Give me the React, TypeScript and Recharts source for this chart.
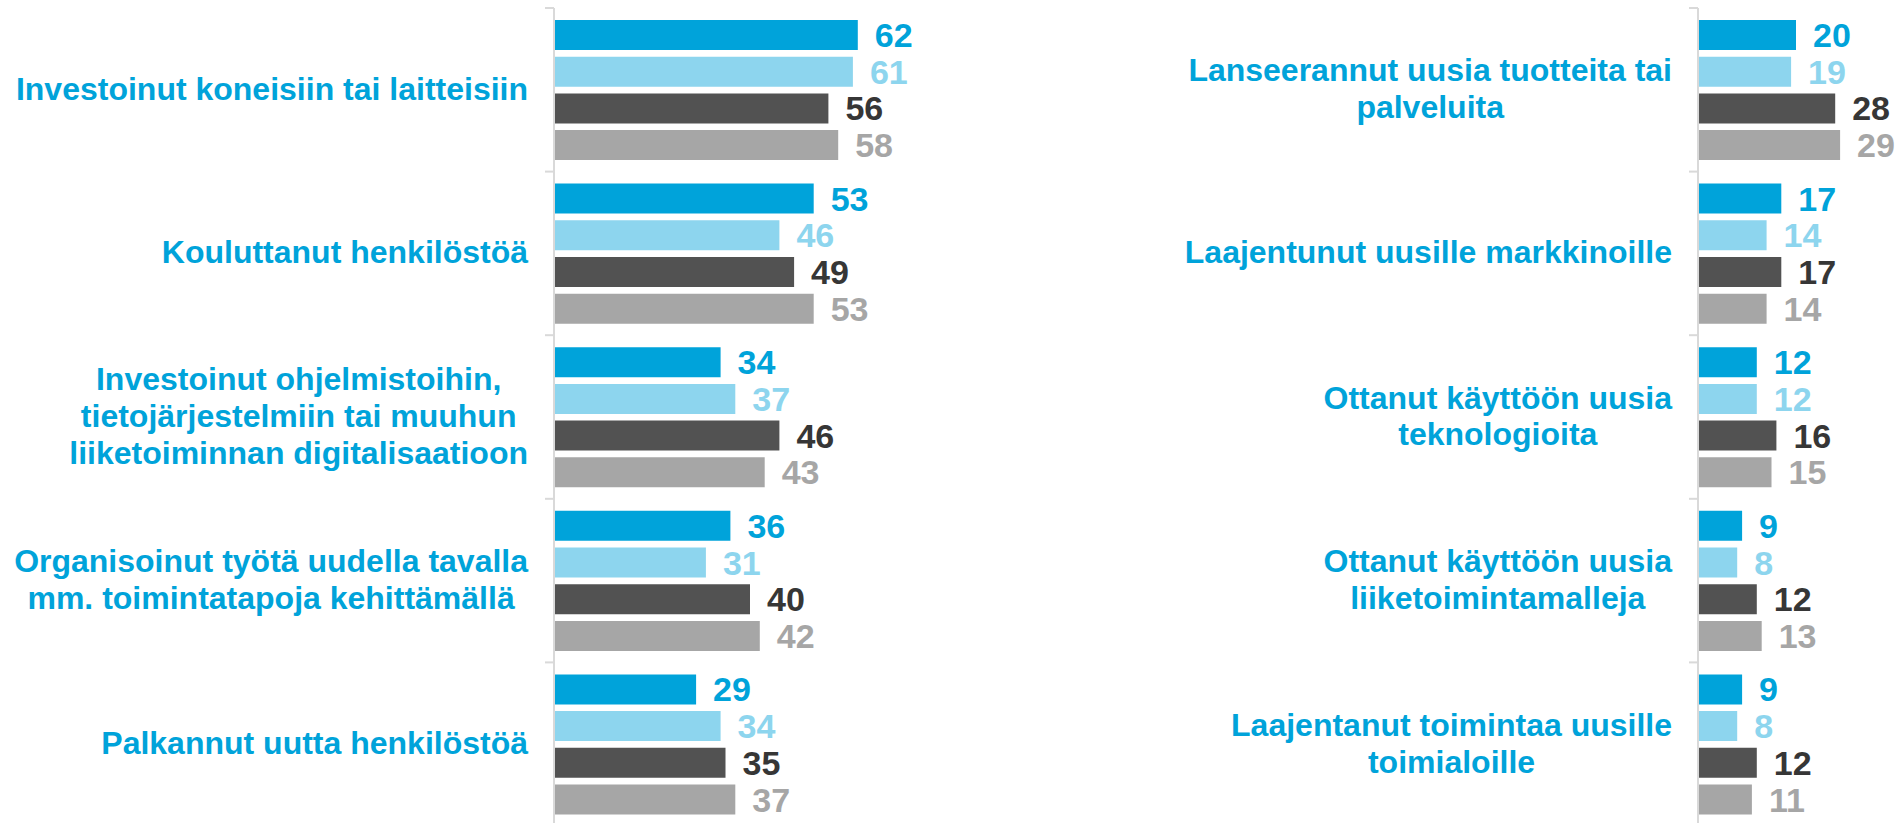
import { BarChart, Bar, XAxis, YAxis, LabelList } from 'recharts';

// categories, one line break per "\n"
const leftCategories = [
  'Investoinut koneisiin tai laitteisiin',
  'Kouluttanut henkilöstöä',
  'Investoinut ohjelmistoihin,\ntietojärjestelmiin tai muuhun\nliiketoiminnan digitalisaatioon',
  'Organisoinut työtä uudella tavalla\nmm. toimintatapoja kehittämällä',
  'Palkannut uutta henkilöstöä',
];
const rightCategories = [
  'Lanseerannut uusia tuotteita tai\npalveluita',
  'Laajentunut uusille markkinoille',
  'Ottanut käyttöön uusia\nteknologioita',
  'Ottanut käyttöön uusia\nliiketoimintamalleja',
  'Laajentanut toimintaa uusille\ntoimialoille',
];

const leftS1 = [62, 53, 34, 36, 29];
const leftS2 = [61, 46, 37, 31, 34];
const leftS3 = [56, 49, 46, 40, 35];
const leftS4 = [58, 53, 43, 42, 37];

const rightS1 = [20, 17, 12, 9, 9];
const rightS2 = [19, 14, 12, 8, 8];
const rightS3 = [28, 17, 16, 12, 12];
const rightS4 = [29, 14, 15, 13, 11];

const FONT = '"Liberation Sans", Arial, sans-serif';
const BLUE = '#00A3DA';
const series = [
  { key: 's1', bar: BLUE, label: BLUE },
  { key: 's2', bar: '#8DD5EE', label: '#8DD5EE' },
  { key: 's3', bar: '#525252', label: '#363636' },
  { key: 's4', bar: '#A6A6A6', label: '#A6A6A6' },
];

const CHART_H = 830;
const MARGIN_TOP = 8;
const MARGIN_BOTTOM = 4;
const BAND = (CHART_H - MARGIN_TOP - MARGIN_BOTTOM) / 5;
const LINE_H = 36.7;
const LABEL_GAP = 26;

const buildRows = (cats: string[], a: number[], b: number[], c: number[], d: number[]) =>
  cats.map((category, i) => ({ category, s1: a[i], s2: b[i], s3: c[i], s4: d[i] }));

const leftRows = buildRows(leftCategories, leftS1, leftS2, leftS3, leftS4);
const rightRows = buildRows(rightCategories, rightS1, rightS2, rightS3, rightS4);

let ctx: CanvasRenderingContext2D | null = null;
function textWidth(s: string) {
  if (!ctx) ctx = document.createElement('canvas').getContext('2d');
  if (!ctx) return s.length * 16;
  ctx.font = `bold 32px ${FONT}`;
  return ctx.measureText(s).width;
}

function CategoryTick(props: any) {
  const { y, payload, axisX } = props;
  const lines = String(payload.value).split('\n');
  const blockW = Math.max(...lines.map(textWidth));
  const cx = axisX - LABEL_GAP - blockW / 2;
  const top = y - BAND / 2;
  return (
    <g>
      <line x1={axisX - 9} x2={axisX} y1={top} y2={top} stroke="#D9D9D9" strokeWidth={2} />
      <text textAnchor="middle" fill={BLUE} fontSize={32} fontWeight={700} fontFamily={FONT}>
        {lines.map((l, i) => (
          <tspan key={i} x={cx} y={y + 10 + (i - (lines.length - 1) / 2) * LINE_H}>
            {l}
          </tspan>
        ))}
      </text>
    </g>
  );
}

function Panel({ rows, width, axisWidth, max, marginRight, axisX }: any) {
  return (
    <BarChart
      layout="vertical"
      width={width}
      height={CHART_H}
      data={rows}
      margin={{ top: MARGIN_TOP, right: marginRight, bottom: MARGIN_BOTTOM, left: 0 }}
      barSize={30}
      barGap={6.7}
    >
      <XAxis type="number" domain={[0, max]} hide />
      <YAxis
        type="category"
        dataKey="category"
        width={axisWidth}
        interval={0}
        tickLine={false}
        axisLine={{ stroke: '#D9D9D9', strokeWidth: 2 }}
        tick={(p: any) => <CategoryTick {...p} axisX={axisX} />}
      />
      {series.map((s) => (
        <Bar key={s.key} dataKey={s.key} fill={s.bar} isAnimationActive={false}>
          <LabelList
            dataKey={s.key}
            position="right"
            offset={17}
            fill={s.label}
            fontSize={34}
            fontWeight={700}
            fontFamily={FONT}
          />
        </Bar>
      ))}
    </BarChart>
  );
}

export default function App() {
  return (
    <div
      style={{
        position: 'fixed',
        top: 0,
        left: 0,
        width: 1901,
        height: 823,
        overflow: 'hidden',
        background: '#fff',
      }}
    >
      <div style={{ position: 'absolute', left: 0, top: 0 }}>
        <Panel rows={leftRows} width={1150} axisWidth={554} max={100} marginRight={106} axisX={554} />
      </div>
      <div style={{ position: 'absolute', left: 1150, top: 0 }}>
        <Panel rows={rightRows} width={751} axisWidth={548} max={40} marginRight={7} axisX={548} />
      </div>
    </div>
  );
}
